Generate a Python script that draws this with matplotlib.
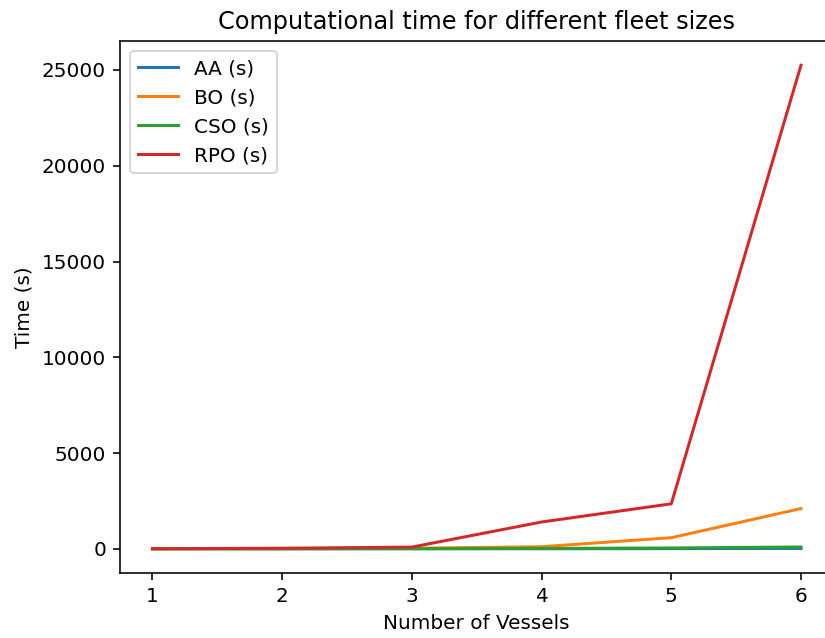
import matplotlib
matplotlib.use("Agg")
import matplotlib.pyplot as plt

vessels = [1, 2, 3, 4, 5, 6]
aa_time = [0.1, 0.3, 1, 3, 8, 20]
bo_time = [2, 10, 30, 110, 580, 2100]
cso_time = [1, 3, 8, 20, 45, 95]
rpo_time = [5, 30, 90, 1400, 2350, 25250]

fig = plt.figure(figsize=(825 / 144, 638 / 144), dpi=144)
ax = fig.add_axes([0.1455, 0.1019, 0.8647, 0.8338])
ax.plot(vessels, aa_time, label="AA (s)")
ax.plot(vessels, bo_time, label="BO (s)")
ax.plot(vessels, cso_time, label="CSO (s)")
ax.plot(vessels, rpo_time, label="RPO (s)")

ax.set_title("Computational time for different fleet sizes")
ax.set_xlabel("Number of Vessels")
ax.set_ylabel("Time (s)")
ax.legend(loc="upper left")

fig.savefig("out.png", dpi=144)
